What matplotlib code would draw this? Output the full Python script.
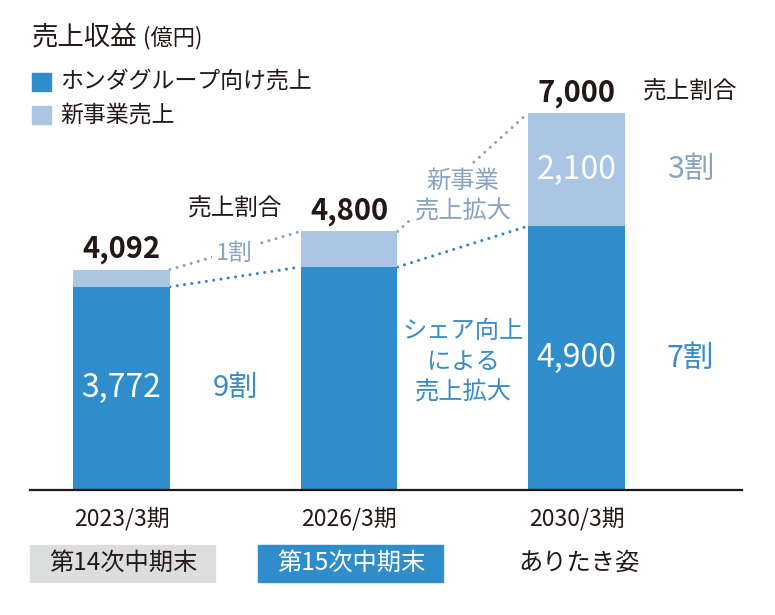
import matplotlib.pyplot as plt
from matplotlib.patches import Rectangle

plt.rcParams['font.family'] = ['Noto Sans CJK JP', 'DejaVu Sans']

# ---- data ----
periods = ['2023/3期', '2026/3期', '2030/3期']
stages = ['第14次中期末', '第15次中期末', 'ありたき姿']
honda_sales = [3772, 4140, 4900]     # ホンダグループ向け売上
new_sales = [320, 660, 2100]         # 新事業売上
totals = [4092, 4800, 7000]
share_new = ['1割', None, '3割']
share_honda = ['9割', None, '7割']

DARK = '#2f8dcc'
LIGHT = '#abc5e5'
INK = '#231815'
STEEL = '#8aa3c1'
BLUE_TXT = '#3a8cc8'

fig = plt.figure(figsize=(7.75, 6.15), dpi=100)
W, H = 775, 615
# axes: baseline at y=490px, x axis line 30..742px
ax = fig.add_axes([30 / W, 125 / H, 712 / W, 430.9 / H])
ax.set_xlim(-0.402, 2.727)
ax.set_ylim(0, 8000)

x = list(range(len(periods)))
bw = 0.426
ax.bar(x, honda_sales, width=bw, color=DARK, zorder=2)
ax.bar(x, new_sales, width=bw, bottom=honda_sales, color=LIGHT, zorder=2)

for s in ['top', 'right', 'left']:
    ax.spines[s].set_visible(False)
ax.spines['bottom'].set_color(INK)
ax.spines['bottom'].set_linewidth(1.6)
ax.set_yticks([])
ax.set_xticks(x)
ax.set_xticklabels(periods, fontsize=16.5, color=INK)
ax.tick_params(axis='x', length=0, pad=12)

# dotted connectors between bars
dots = (0, (0.01, 2.4))
for i in range(len(x) - 1):
    x0, x1 = x[i] + bw / 2, x[i + 1] - bw / 2
    ax.plot([x0, x1], [totals[i], totals[i + 1]], color=STEEL, lw=2.2,
            linestyle=dots, dash_capstyle='round', zorder=1)
    ax.plot([x0, x1], [honda_sales[i], honda_sales[i + 1]], color='#3b84c4', lw=2.2,
            linestyle=dots, dash_capstyle='round', zorder=1)

# totals above bars
for xi, t in zip(x, totals):
    ax.annotate(f'{t:,}', xy=(xi, t), xytext=(0, 8.5), textcoords='offset points',
                ha='center', va='baseline', fontsize=21, fontweight='bold', color=INK)

# values inside bars
ax.text(0, honda_sales[0] / 2, f'{honda_sales[0]:,}', ha='center', va='center',
        fontsize=23, color='white')
ax.text(2, honda_sales[2] / 2, f'{honda_sales[2]:,}', ha='center', va='center',
        fontsize=23, color='white')
ax.text(2, honda_sales[2] + new_sales[2] / 2, f'{new_sales[2]:,}', ha='center',
        va='center', fontsize=23, color='white')

# share labels
white_box = dict(boxstyle='square,pad=0.15', fc='white', ec='none')
ax.text(0.5, honda_sales[0] / 2, share_honda[0], ha='center', va='center',
        fontsize=21, color=BLUE_TXT)
ax.text(0.495, 4382, share_new[0], ha='center', va='center', fontsize=17,
        color=STEEL, bbox=white_box, zorder=3)
ax.text(2.5, honda_sales[2] / 2, share_honda[2], ha='center', va='center',
        fontsize=22, color=BLUE_TXT)
ax.text(2.5, honda_sales[2] + new_sales[2] / 2, share_new[2], ha='center',
        va='center', fontsize=22, color=STEEL)
ax.text(0.5, 5217, '売上割合', ha='center', va='center', fontsize=17, color=INK)
ax.text(2.499, 7390, '売上割合', ha='center', va='center', fontsize=17, color=INK)

# growth notes
ax.text(1.501, 5459, '新事業\n売上拡大', ha='center', va='center', fontsize=17.5,
        color=STEEL, linespacing=1.25, bbox=white_box, zorder=3)
ax.text(1.501, 2377, 'シェア向上\nによる\n売上拡大', ha='center', va='center',
        fontsize=17.5, color=BLUE_TXT, linespacing=1.25)

# stage boxes below periods
tr = ax.get_xaxis_transform()
box_colors = ['#dcdddd', DARK, None]
text_colors = [INK, 'white', INK]
box_w = 185 / 227.5
for xi, st, bc, tc in zip(x, stages, box_colors, text_colors):
    if bc:
        ax.add_patch(Rectangle((xi - box_w / 2 + 0.005, -0.2135), box_w, 0.0859,
                               transform=tr, color=bc, clip_on=False, zorder=0))
    ax.text(xi + 0.01, -0.170, st, transform=tr, ha='center', va='center',
            fontsize=17.5, color=tc)

# title and legend
fig.text(32 / W, 1 - 44 / H, '売上収益', fontsize=19, color=INK, va='baseline')
fig.text(143 / W, 1 - 44 / H, '(億円)', fontsize=16, color=INK, va='baseline')
for yc, col, lab in [(82, DARK, 'ホンダグループ向け売上'), (115, LIGHT, '新事業売上')]:
    fig.patches.append(Rectangle((32 / W, 1 - (yc + 9) / H), 19 / W, 18 / H,
                                 transform=fig.transFigure, color=col))
    fig.text(60 / W, 1 - yc / H, lab, fontsize=16.5, color=INK, va='center')

fig.savefig('out.png', dpi=100)
